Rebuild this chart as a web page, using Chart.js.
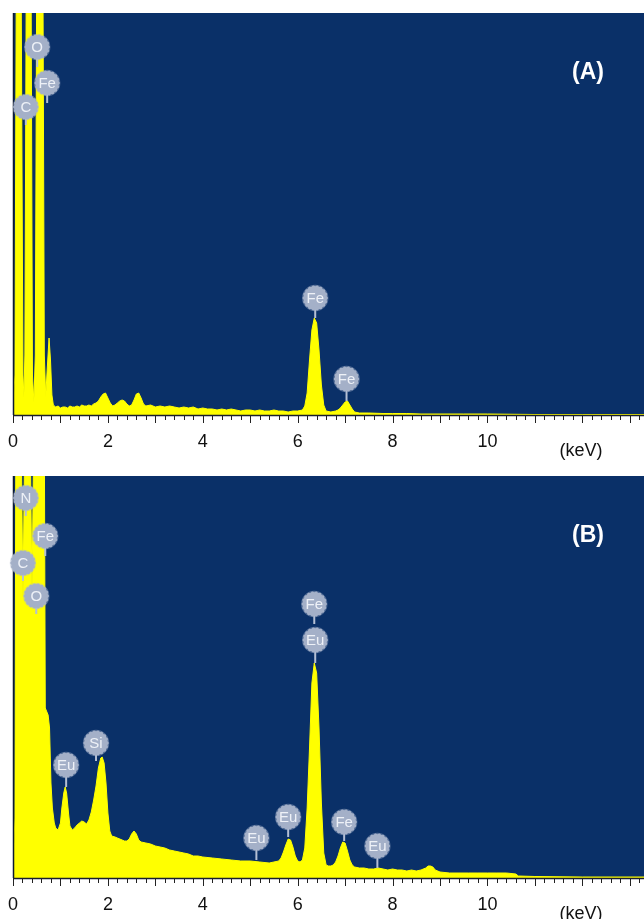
<!DOCTYPE html>
<html>
<head>
<meta charset="utf-8">
<script src="https://cdn.jsdelivr.net/npm/chart.js@4.4.1/dist/chart.umd.min.js"></script>
<style>
    html, body { margin: 0; padding: 0; background: #ffffff; }
    .panel { position: absolute; left: 0; width: 644px; }
    #pa { top: 0; height: 465px; }
    #pb { top: 464px; height: 455px; }
</style>
</head>
<body>
<div class="panel" id="pa"><canvas id="ca"></canvas></div>
<div class="panel" id="pb"><canvas id="cb"></canvas></div>
<script>
// spectrum (A) : energy (keV) / counts
var energyA = [0, 0.04, 0.07, 0.17, 0.21, 0.23, 0.25, 0.28, 0.38, 0.41, 0.44, 0.47, 0.5, 0.63, 0.66, 0.69, 0.72, 0.76, 0.79, 0.82, 0.85, 0.9,
    0.95, 1.0, 1.05, 1.1, 1.15, 1.2, 1.25, 1.3, 1.35, 1.4, 1.45, 1.5, 1.55, 1.6, 1.65, 1.7, 1.75, 1.8, 1.85, 1.9, 1.95, 2.0,
    2.05, 2.1, 2.15, 2.2, 2.25, 2.3, 2.35, 2.4, 2.45, 2.5, 2.55, 2.6, 2.65, 2.7, 2.75, 2.8, 2.9, 3.0, 3.1, 3.2, 3.3, 3.4, 3.5,
    3.6, 3.7, 3.8, 3.9, 4.0, 4.1, 4.2, 4.3, 4.4, 4.5, 4.6, 4.7, 4.8, 4.9, 5.0, 5.1, 5.2, 5.3, 5.4, 5.5, 5.6, 5.7, 5.8, 5.9,
    6.0, 6.1, 6.15, 6.2, 6.25, 6.3, 6.35, 6.4, 6.45, 6.5, 6.55, 6.6, 6.7, 6.8, 6.85, 6.9, 6.95, 7.0, 7.05, 7.1, 7.15, 7.2,
    7.3, 7.5, 7.8, 8.0, 8.3, 8.6, 9.0, 9.5, 10.0, 11.0, 12.0, 13.3];
var countsA = [4, 40, 450, 450, 40, 18, 60, 450, 450, 40, 13, 60, 450, 450, 60, 18, 45, 77, 55, 20, 10, 8,
    9, 7, 8, 8, 7, 9, 8, 8, 9, 8, 10, 9, 9, 10, 9, 11, 12, 14, 18, 21, 22, 17,
    12, 9, 10, 12, 14, 15, 14, 11, 9, 10, 15, 21, 22, 17, 11, 9, 10, 8, 9, 8, 9, 8, 7,
    8, 7, 8, 6, 7, 6, 6, 5, 6, 5, 6, 5, 4, 5, 5, 4, 5, 4, 4, 5, 4, 4, 3, 4,
    4, 5, 9, 22, 55, 85, 97, 92, 65, 30, 10, 4, 3, 4, 5, 7, 10, 13, 14, 10, 6, 3,
    2, 2, 1.5, 1.5, 1.5, 1, 1, 1, 1, 0.5, 0.5, 0.5];

// spectrum (B)
var energyB = [0, 0.04, 0.06, 0.17, 0.21, 0.25, 0.36, 0.40, 0.44, 0.66, 0.68, 0.74, 0.77, 0.8, 0.83, 0.87, 0.9, 0.95, 1.0,
    1.03, 1.07, 1.1, 1.13, 1.17, 1.2, 1.25, 1.3, 1.35, 1.4, 1.45, 1.5, 1.55, 1.6, 1.65, 1.7, 1.75, 1.8, 1.85, 1.88, 1.92,
    1.96, 2.0, 2.04, 2.08, 2.15, 2.2, 2.3, 2.35, 2.4, 2.45, 2.5, 2.55, 2.6, 2.65, 2.7, 2.8, 2.9, 3.0, 3.1, 3.2, 3.3, 3.4,
    3.5, 3.6, 3.7, 3.8, 3.9, 4.0, 4.2, 4.4, 4.6, 4.8, 5.0, 5.2, 5.4, 5.5, 5.6, 5.65, 5.7, 5.75, 5.8, 5.85, 5.9, 5.95, 6.0,
    6.05, 6.1, 6.15, 6.2, 6.25, 6.3, 6.35, 6.4, 6.45, 6.5, 6.55, 6.6, 6.65, 6.7, 6.75, 6.8, 6.85, 6.9, 6.95, 7.0, 7.05,
    7.1, 7.15, 7.2, 7.3, 7.4, 7.5, 7.6, 7.7, 7.8, 7.9, 8.0, 8.1, 8.2, 8.3, 8.4, 8.5, 8.6, 8.7, 8.75, 8.8, 8.85, 8.9, 9.0,
    9.2, 9.4, 9.6, 9.8, 10.0, 10.2, 10.4, 10.6, 10.65, 11.0, 12.0, 13.3];
var countsB = [5, 60, 450, 450, 280, 450, 450, 285, 450, 450, 170, 163, 150, 95, 70, 55, 50, 48, 55,
    70, 85, 91, 85, 65, 52, 48, 50, 53, 55, 57, 56, 54, 58, 66, 78, 92, 110, 120, 121, 115,
    95, 65, 47, 42, 41, 40, 38, 37, 37, 39, 44, 47, 44, 38, 36, 35, 34, 32, 31, 30, 28, 27,
    26, 25, 24, 22, 22, 21, 20, 19, 18, 17, 17, 16, 15, 16, 17, 20, 26, 33, 39, 38, 31, 22, 17,
    16, 18, 30, 70, 130, 195, 215, 205, 150, 75, 25, 13, 12, 12, 13, 16, 22, 30, 36, 35, 27,
    18, 13, 11, 10, 10, 9, 9, 10, 9, 8, 9, 8, 8, 7, 8, 7, 8, 10, 12, 12, 11, 8, 6,
    5, 5, 5, 5, 5, 5, 5, 4, 2, 1.5, 1, 1];

// element markers: element, energy (keV), marker level, stem end level
var badgesA = [
    ['O', 0.51, 368, 348], ['Fe', 0.72, 332, 312], ['C', 0.27, 308, 290],
    ['Fe', 6.37, 117, 97], ['Fe', 7.03, 36, 14]
];
var badgesB = [
    ['N', 0.27, 380, 362], ['Fe', 0.68, 342, 322], ['C', 0.21, 315, 297], ['O', 0.49, 282, 264],
    ['Eu', 1.12, 113, 91], ['Si', 1.75, 135, 117],
    ['Fe', 6.35, 274, 254], ['Eu', 6.37, 238, 215],
    ['Eu', 5.13, 40, 18], ['Eu', 5.8, 61, 41], ['Fe', 6.98, 56, 37], ['Eu', 7.68, 32, 10]
];

var xLabels = [0, 2, 4, 6, 8, 10];
var xMax = 13.3;
var yMax = 402;

var NAVY = '#0a3068';
var YELLOW = '#ffff00';

function drawBadge(ctx, cx, cy, text) {
    var r = 12.2;
    // soft outer halo
    ctx.beginPath();
    ctx.arc(cx, cy, r + 1, 0, Math.PI * 2);
    ctx.fillStyle = 'rgba(170,182,206,0.45)';
    ctx.fill();
    ctx.beginPath();
    for (var i = 0; i <= 120; i++) {
        var a = i / 120 * Math.PI * 2;
        var rr = r + 0.5 * Math.cos(a * 18);
        var px = cx + rr * Math.cos(a), py = cy + rr * Math.sin(a);
        if (i == 0) ctx.moveTo(px, py); else ctx.lineTo(px, py);
    }
    ctx.closePath();
    ctx.fillStyle = '#a4b0c8';
    ctx.fill();
    ctx.fillStyle = '#eef1f7';
    ctx.font = '15px "Liberation Sans", Arial, sans-serif';
    ctx.textAlign = 'center';
    ctx.textBaseline = 'middle';
    ctx.fillText(text, cx, cy + 1);
}

var edsPlugin = {
    id: 'eds',
    beforeDraw: function(chart) {
        var a = chart.chartArea, ctx = chart.ctx;
        ctx.save();
        ctx.fillStyle = NAVY;
        ctx.fillRect(a.left, a.top, a.right - a.left, a.bottom - a.top);
        ctx.restore();
    },
    afterDatasetsDraw: function(chart, args, opts) {
        var a = chart.chartArea, ctx = chart.ctx;
        var xs = chart.scales.x, ys = chart.scales.y;
        ctx.save();
        // axis lines
        ctx.strokeStyle = '#0d1a30';
        ctx.lineWidth = 1.5;
        ctx.beginPath();
        ctx.moveTo(a.left + 0.5, a.top);
        ctx.lineTo(a.left + 0.5, a.bottom);
        ctx.stroke();
        ctx.strokeStyle = '#1a1f2e';
        ctx.beginPath();
        ctx.moveTo(a.left, a.bottom + 0.5);
        ctx.lineTo(a.right, a.bottom + 0.5);
        ctx.stroke();
        // minor / major ticks
        ctx.lineWidth = 1;
        ctx.strokeStyle = '#222222';
        for (var k = 0; k <= 66; k++) {
            var v = k / 5;
            var px = Math.round(xs.getPixelForValue(v)) + 0.5;
            var len = (k % 5 == 0) ? 7 : 4;
            ctx.beginPath();
            ctx.moveTo(px, a.bottom + 1);
            ctx.lineTo(px, a.bottom + 1 + len);
            ctx.stroke();
        }
        // element markers
        opts.badges.forEach(function(b) {
            var cx = xs.getPixelForValue(b[1]);
            var cy = ys.getPixelForValue(b[2]);
            var sy = ys.getPixelForValue(b[3]);
            ctx.strokeStyle = '#b4bfd4';
            ctx.lineWidth = 2;
            ctx.beginPath();
            ctx.moveTo(cx, cy);
            ctx.lineTo(cx, sy);
            ctx.stroke();
        });
        opts.badges.forEach(function(b) {
            drawBadge(ctx, xs.getPixelForValue(b[1]), ys.getPixelForValue(b[2]), b[0]);
        });
        // panel tag
        ctx.fillStyle = '#ffffff';
        ctx.font = 'bold 23px "Liberation Sans", Arial, sans-serif';
        ctx.textAlign = 'center';
        ctx.textBaseline = 'middle';
        ctx.fillText(opts.tag, 588, a.top + 60);
        // unit
        ctx.fillStyle = '#111111';
        ctx.font = '18px "Liberation Sans", Arial, sans-serif';
        ctx.fillText('(keV)', 581, a.bottom + 36);
        ctx.restore();
    }
};

function makeChart(id, energy, counts, badges, tag, padTop, padBottom) {
    var pts = energy.map(function(e, i) { return { x: e, y: counts[i] }; });
    return new Chart(document.getElementById(id).getContext('2d'), {
        type: 'line',
        data: {
            datasets: [{
                data: pts,
                borderColor: YELLOW,
                backgroundColor: YELLOW,
                borderWidth: 1,
                pointRadius: 0,
                tension: 0,
                fill: 'origin'
            }]
        },
        options: {
            responsive: true,
            maintainAspectRatio: false,
            animation: false,
            layout: { padding: { left: 7, right: 0, top: padTop, bottom: padBottom } },
            plugins: {
                legend: { display: false },
                tooltip: { enabled: false },
                eds: { badges: badges, tag: tag }
            },
            scales: {
                x: {
                    type: 'linear',
                    min: 0,
                    max: xMax,
                    grid: { display: false },
                    border: { display: false },
                    afterBuildTicks: function(s) { s.ticks = xLabels.map(function(v) { return { value: v }; }); },
                    afterFit: function(s) { s.height = 41; },
                    ticks: {
                        color: '#111111',
                        padding: 8,
                        maxRotation: 0,
                        autoSkip: false,
                        font: { family: '"Liberation Sans", Arial, sans-serif', size: 18 },
                        callback: function(v) { return String(v); }
                    }
                },
                y: {
                    display: false,
                    min: 0,
                    max: yMax
                }
            }
        },
        plugins: [edsPlugin]
    });
}

makeChart('ca', energyA, countsA, badgesA, '(A)', 13, 9);
makeChart('cb', energyB, countsB, badgesB, '(B)', 12, 0);
</script>
</body>
</html>
